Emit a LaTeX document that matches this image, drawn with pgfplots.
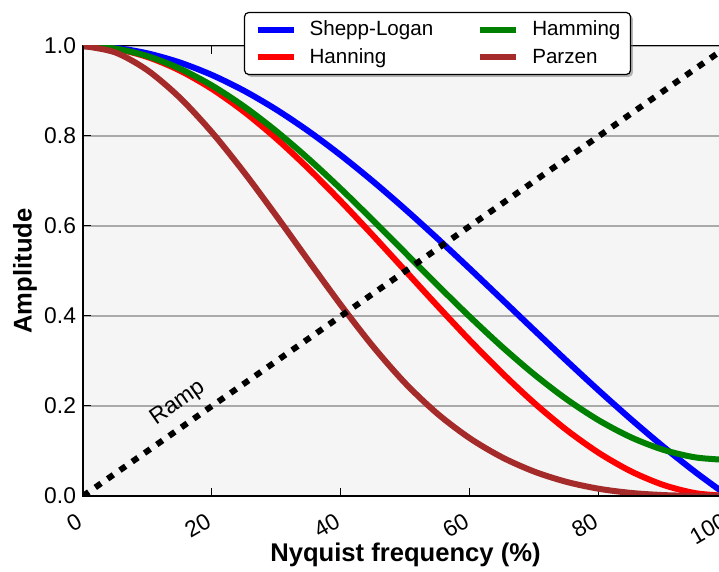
\documentclass[border=0pt]{standalone}
\usepackage{fontspec}
\setmainfont{Liberation Sans}
\usepackage{pgfplots}
\pgfplotsset{compat=1.18}
\usetikzlibrary{calc,shadows}

\definecolor{slblue}{RGB}{0,0,255}
\definecolor{hnred}{RGB}{255,0,0}
\definecolor{hmgreen}{RGB}{0,128,0}
\definecolor{pzbrown}{RGB}{165,42,42}
\definecolor{bgray}{RGB}{245,245,245}
\definecolor{grd}{RGB}{170,170,170}

\begin{document}
\begin{tikzpicture}
\begin{axis}[
    name=ax,
    scale only axis,
    width=322.5pt, height=225pt,
    xmin=0, xmax=100, ymin=0, ymax=1,
    xtick={0,20,40,60,80,100},
    ytick={0,0.2,0.4,0.6,0.8,1.0},
    yticklabel style={/pgf/number format/.cd, fixed, fixed zerofill, precision=1},
    /pgf/number format/assume math mode=true,
    tick label style={font=\fontsize{11.4}{13}\selectfont},
    x tick label style={rotate=30, anchor=north east, inner sep=1pt, yshift=-4pt, xshift=-6pt},
    tick align=inside,
    major tick length=4pt,
    tick style={black, line width=0.5pt},
    ymajorgrids=true,
    grid style={grd, line width=0.6pt},
    axis background/.style={fill=bgray},
    axis line style={line width=0.5pt},
    xlabel={\bfseries Nyquist frequency (\%)},
    ylabel={\bfseries Amplitude},
    label style={font=\fontsize{12.8}{15}\selectfont},
    xlabel style={at={(axis description cs:0.5,-0.131)}, anchor=center},
    ylabel style={at={(axis description cs:-0.09,0.5)}, anchor=center},
    legend columns=2,
    transpose legend,
    legend cell align=left,
    legend image code/.code={%
        \begin{scope}[#1]
        \pgfpathmoveto{\pgfpoint{0pt}{0pt}}%
        \pgfpathlineto{\pgfpoint{18pt}{0pt}}%
        \pgfusepath{stroke}%
        \end{scope}},
    legend style={
        at={(0.2496,1.0756)}, anchor=north west,
        font=\fontsize{10.3}{12}\selectfont,
        draw=black, line width=0.6pt, rounded corners=2pt,
        fill=white,
        drop shadow={shadow xshift=1.2pt, shadow yshift=-1.2pt, fill=black!55},
        inner xsep=5pt, inner ysep=2pt,
        row sep=1pt,
        nodes={inner xsep=0pt},
        /tikz/every odd column/.append style={column sep=6.5pt},
        /tikz/every even column/.append style={column sep=22pt},
    },
    every axis plot/.append style={line width=3pt},
]
% Shepp-Logan
\addplot[slblue, smooth] coordinates {
(0,1) (5,0.99589) (10,0.98363) (15,0.96340) (20,0.93549) (25,0.90032)
(30,0.85839) (35,0.81034) (40,0.75683) (45,0.69865) (50,0.63662)
(55,0.57161) (60,0.50455) (65,0.43633) (70,0.36789) (75,0.30011)
(80,0.23387) (85,0.17001) (90,0.10929) (95,0.05242) (100,0)
};
\addlegendentry{Shepp-Logan}
% Hanning
\addplot[hnred, smooth] coordinates {
(0,1) (5,0.99384) (10,0.97553) (15,0.94550) (20,0.90451) (25,0.85355)
(30,0.79389) (35,0.72700) (40,0.65451) (45,0.57822) (50,0.5)
(55,0.42178) (60,0.34549) (65,0.27300) (70,0.20611) (75,0.14645)
(80,0.09549) (85,0.05450) (90,0.02447) (95,0.00616) (100,0)
};
\addlegendentry{Hanning}
% Hamming
\addplot[hmgreen, smooth] coordinates {
(0,1) (5,0.99434) (10,0.97749) (15,0.94986) (20,0.91215) (25,0.86527)
(30,0.81038) (35,0.74884) (40,0.68215) (45,0.61196) (50,0.54)
(55,0.46804) (60,0.39785) (65,0.33116) (70,0.26962) (75,0.21473)
(80,0.16785) (85,0.13014) (90,0.10251) (95,0.08566) (100,0.08)
};
\addlegendentry{Hamming}
% Parzen
\addplot[pzbrown, smooth] coordinates {
(0,1) (5,0.98575) (10,0.946) (15,0.88525) (20,0.808) (25,0.71875)
(30,0.622) (35,0.52225) (40,0.424) (45,0.33175) (50,0.25)
(55,0.18225) (60,0.128) (65,0.08575) (70,0.054) (75,0.03125)
(80,0.016) (85,0.00675) (90,0.002) (95,0.00025) (100,0)
};
\addlegendentry{Parzen}
% Ramp
\addplot[black, dash pattern=on 3.5pt off 4pt, forget plot] coordinates {(0,0) (100,1)};
\node[rotate=35, font=\fontsize{11.4}{13}\selectfont] at (axis cs:14.7,0.206) {Ramp};
\end{axis}
\draw[line width=1pt] (ax.north west) -- (ax.south west) -- (ax.south east);
\pgfresetboundingbox
\path[use as bounding box] ($(ax.south west)+(-41.5pt,-38pt)$) rectangle ($(ax.south west)+(318pt,248pt)$);
\end{tikzpicture}
\end{document}
